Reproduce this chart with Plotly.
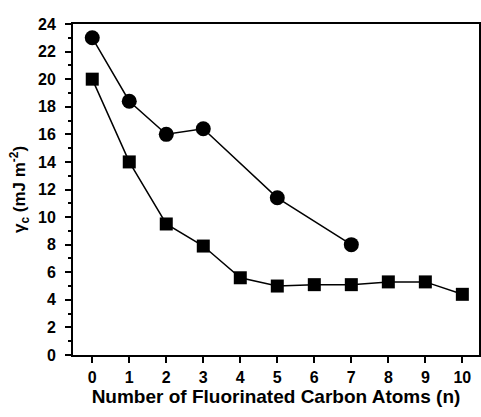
import plotly.graph_objects as go

n_circle = [0, 1, 2, 3, 5, 7]
gamma_circle = [23.0, 18.4, 16.0, 16.4, 11.4, 8.0]
n_square = [0, 1, 2, 3, 4, 5, 6, 7, 8, 9, 10]
gamma_square = [20.0, 14.0, 9.5, 7.9, 5.6, 5.0, 5.1, 5.1, 5.3, 5.3, 4.4]
x_ticks = list(range(0, 11))
y_ticks = list(range(0, 25, 2))

fig = go.Figure()
fig.add_trace(go.Scatter(x=n_circle, y=gamma_circle, mode="lines+markers",
                         line=dict(color="black", width=1.5),
                         marker=dict(symbol="circle", size=15, color="black"),
                         showlegend=False))
fig.add_trace(go.Scatter(x=n_square, y=gamma_square, mode="lines+markers",
                         line=dict(color="black", width=1.5),
                         marker=dict(symbol="square", size=13, color="black"),
                         showlegend=False))

font = dict(family="Liberation Sans, Arial, sans-serif", color="black")
fig.update_layout(
    width=481, height=417,
    margin=dict(l=73, r=2, t=24, b=62),
    paper_bgcolor="white", plot_bgcolor="white",
    font=font,
    xaxis=dict(range=[-0.52, 10.45], tickvals=x_ticks, ticktext=[f"<b>{v}</b>" for v in x_ticks],
               showline=True, linecolor="black", linewidth=2, mirror=True,
               ticks="outside", ticklen=6, tickwidth=2, tickcolor="black",
               showgrid=False, zeroline=False, tickfont=dict(size=16, **font),
               automargin=False, ticklabelstandoff=1,
               title=dict(text="<b>Number of Fluorinated Carbon Atoms (n)</b>",
                          font=dict(size=19, **font), standoff=3)),
    yaxis=dict(range=[0, 24], tickvals=y_ticks, ticktext=[f"<b>{v}</b>" for v in y_ticks],
               showline=True, linecolor="black", linewidth=2, mirror=True,
               ticks="outside", ticklen=6, tickwidth=2, tickcolor="black",
               minor=dict(dtick=1, ticks="outside", ticklen=3, tickwidth=2, tickcolor="black", showgrid=False),
               showgrid=False, zeroline=False, tickfont=dict(size=16, **font),
               automargin=False, ticklabelstandoff=6,
               title=dict(text="<b>γ<sub>c</sub> (mJ m<sup>-2</sup>)</b>",
                          font=dict(size=17, **font), standoff=8)),
)
fig.write_html("out.html", config={"displayModeBar": False},
               post_script="document.body.style.margin='0';document.body.style.overflow='hidden';")
